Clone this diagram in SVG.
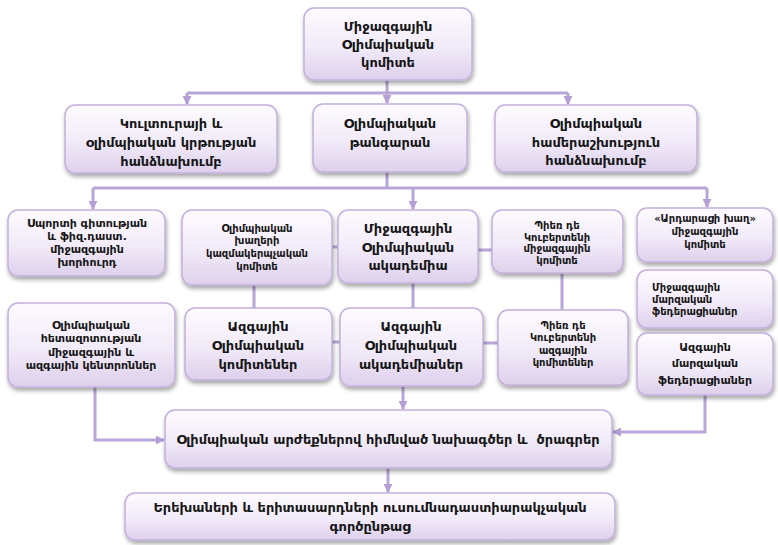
<svg xmlns="http://www.w3.org/2000/svg" width="778" height="545" viewBox="0 0 778 545">
<defs>
<linearGradient id="g" x1="0" y1="0" x2="0" y2="1">
<stop offset="0" stop-color="#fdfbff"/>
<stop offset="0.55" stop-color="#f1eaf8"/>
<stop offset="1" stop-color="#ddd0ec"/>
</linearGradient>
<filter id="sh" x="-10%" y="-10%" width="125%" height="130%">
<feGaussianBlur in="SourceAlpha" stdDeviation="2"/>
<feOffset dx="1" dy="3" result="b"/>
<feComponentTransfer><feFuncA type="linear" slope="0.35"/></feComponentTransfer>
<feMerge><feMergeNode/><feMergeNode in="SourceGraphic"/></feMerge>
</filter>
<marker id="ar" viewBox="0 0 10 10" refX="9" refY="5" markerWidth="3" markerHeight="3" orient="auto" markerUnits="strokeWidth">
<path d="M0,0 L10,5 L0,10 z" fill="#b39fd3"/>
</marker>
</defs>
<style>
.b{fill:url(#g);stroke:#c3b0dc;stroke-width:1.5;filter:url(#sh)}
.c{fill:none;stroke:#b8a6d8;stroke-width:3}
.t{font-family:"DejaVu Sans",sans-serif;font-weight:bold;fill:#161616;text-anchor:middle}
.l{text-anchor:start}
.f13{font-size:13px}
.f12{font-size:12px}
.f11{font-size:11px}
.f10{font-size:10px}
</style>
<rect width="778" height="545" fill="#ffffff"/>
<g id="connectors">
<path class="c" d="M387,80 V93 M187,93 H568"/>
<path class="c" d="M187,93 V104" marker-end="url(#ar)"/>
<path class="c" d="M387,93 V103" marker-end="url(#ar)"/>
<path class="c" d="M568,93 V104" marker-end="url(#ar)"/>
<path class="c" d="M387,172 V188 M93,188 H707"/>
<path class="c" d="M93,188 V209" marker-end="url(#ar)"/>
<path class="c" d="M413,188 V209" marker-end="url(#ar)"/>
<path class="c" d="M707,188 V207" marker-end="url(#ar)"/>
<path class="c" d="M332,247 H338 M478,250 H492 M254,285 V308 M413,283 V308 M562,273 V310 M332,342 H340 M483,343 H498"/>
<path class="c" d="M95,387 V440 H164" marker-end="url(#ar)"/>
<path class="c" d="M403,386 V409" marker-end="url(#ar)"/>
<path class="c" d="M705,395 V432 H613" marker-end="url(#ar)"/>
<path class="c" d="M388,468 V492" marker-end="url(#ar)"/>
</g>
<g id="ioc"><rect class="b" x="304" y="8" width="168" height="72" rx="10"/>
<text class="t f13" x="388" y="31">Միջազգային</text><text class="t f13" x="388" y="49">Օլիմպիական</text><text class="t f13" x="388" y="67">կոմիտե</text></g>
<g id="culture"><rect class="b" x="65" y="105" width="212" height="68" rx="10"/>
<text class="t f13" x="171" y="128">Կուլտուրայի և</text><text class="t f13" x="171" y="147">օլիմպիական կրթության</text><text class="t f13" x="171" y="166">հանձնախումբ</text></g>
<g id="museum"><rect class="b" x="313" y="104" width="154" height="68" rx="10"/>
<text class="t f13" x="390" y="128">Օլիմպիական</text><text class="t f13" x="390" y="147">թանգարան</text></g>
<g id="solidarity"><rect class="b" x="495" y="105" width="202" height="67" rx="10"/>
<text class="t f13" x="596" y="128">Օլիմպիական</text><text class="t f13" x="596" y="147">համերաշխություն</text><text class="t f13" x="596" y="165">հանձնախումբ</text></g>
<g id="icsspe"><rect class="b" x="8" y="210" width="157" height="66" rx="10"/>
<text class="t f11" x="87" y="227">Սպորտի գիտության</text><text class="t f11" x="87" y="240">և ֆիզ.դաստ.</text><text class="t f11" x="87" y="253">միջազգային</text><text class="t f11" x="87" y="266">խորհուրդ</text></g>
<g id="ocog"><rect class="b" x="182" y="210" width="150" height="75" rx="10"/>
<text class="t f10" x="257" y="232">Օլիմպիական</text><text class="t f10" x="257" y="244">խաղերի</text><text class="t f10" x="257" y="257">կազմակերպչական</text><text class="t f10" x="257" y="270">կոմիտե</text></g>
<g id="ioa"><rect class="b" x="338" y="210" width="140" height="73" rx="10"/>
<text class="t f13" x="408" y="233">Միջազգային</text><text class="t f13" x="408" y="252">Օլիմպիական</text><text class="t f13" x="408" y="270">ակադեմիա</text></g>
<g id="cipc"><rect class="b" x="492" y="210" width="131" height="63" rx="10"/>
<text class="t f10" x="557" y="229">Պիեռ դե</text><text class="t f10" x="557" y="241">Կուբերտենի</text><text class="t f10" x="557" y="252">միջազգային</text><text class="t f10" x="557" y="264">կոմիտե</text></g>
<g id="fairplay"><rect class="b" x="637" y="208" width="136" height="54" rx="10"/>
<text class="t f10" x="705" y="222">«Արդարացի խաղ»</text><text class="t f10" x="705" y="235">միջազգային</text><text class="t f10" x="705" y="248">կոմիտե</text></g>
<g id="if"><rect class="b" x="637" y="270" width="136" height="58" rx="10"/>
<text class="t l f10" x="652" y="291">Միջազգային</text><text class="t l f10" x="652" y="303">մարզական</text><text class="t l f10" x="652" y="315">ֆեդերացիաներ</text></g>
<g id="nf"><rect class="b" x="637" y="333" width="136" height="62" rx="10"/>
<text class="t f11" x="705" y="351">Ազգային</text><text class="t f11" x="705" y="367">մարզական</text><text class="t f11" x="705" y="384">ֆեդերացիաներ</text></g>
<g id="research"><rect class="b" x="8" y="303" width="167" height="84" rx="10"/>
<text class="t f11" x="91" y="329">Օլիմպիական</text><text class="t f11" x="91" y="342">հետազոտության</text><text class="t f11" x="91" y="356">միջազգային և</text><text class="t f11" x="91" y="369">ազգային կենտրոններ</text></g>
<g id="noc"><rect class="b" x="185" y="308" width="147" height="72" rx="10"/>
<text class="t f13" x="258" y="331">Ազգային</text><text class="t f13" x="258" y="350">Օլիմպիական</text><text class="t f13" x="258" y="369">կոմիտեներ</text></g>
<g id="noa"><rect class="b" x="340" y="308" width="143" height="78" rx="10"/>
<text class="t f13" x="411" y="331">Ազգային</text><text class="t f13" x="411" y="350">Օլիմպիական</text><text class="t f13" x="411" y="369">ակադեմիաներ</text></g>
<g id="ncpc"><rect class="b" x="498" y="310" width="130" height="75" rx="10"/>
<text class="t f10" x="563" y="329">Պիեռ դե</text><text class="t f10" x="563" y="341">Կուբերտենի</text><text class="t f10" x="563" y="354">ազգային</text><text class="t f10" x="563" y="366">կոմիտեներ</text></g>
<g id="projects"><rect class="b" x="165" y="410" width="447" height="58" rx="10"/>
<text class="t f13" x="388" y="444">Օլիմպիական արժեքներով հիմնված նախագծեր և&#160; ծրագրեր</text></g>
<g id="education"><rect class="b" x="125" y="493" width="490" height="47" rx="10"/>
<text class="t f13" x="370" y="512">Երեխաների և երիտասարդների ուսումնադաստիարակչական</text><text class="t f13" x="370" y="531">գործընթաց</text></g>
</svg>
